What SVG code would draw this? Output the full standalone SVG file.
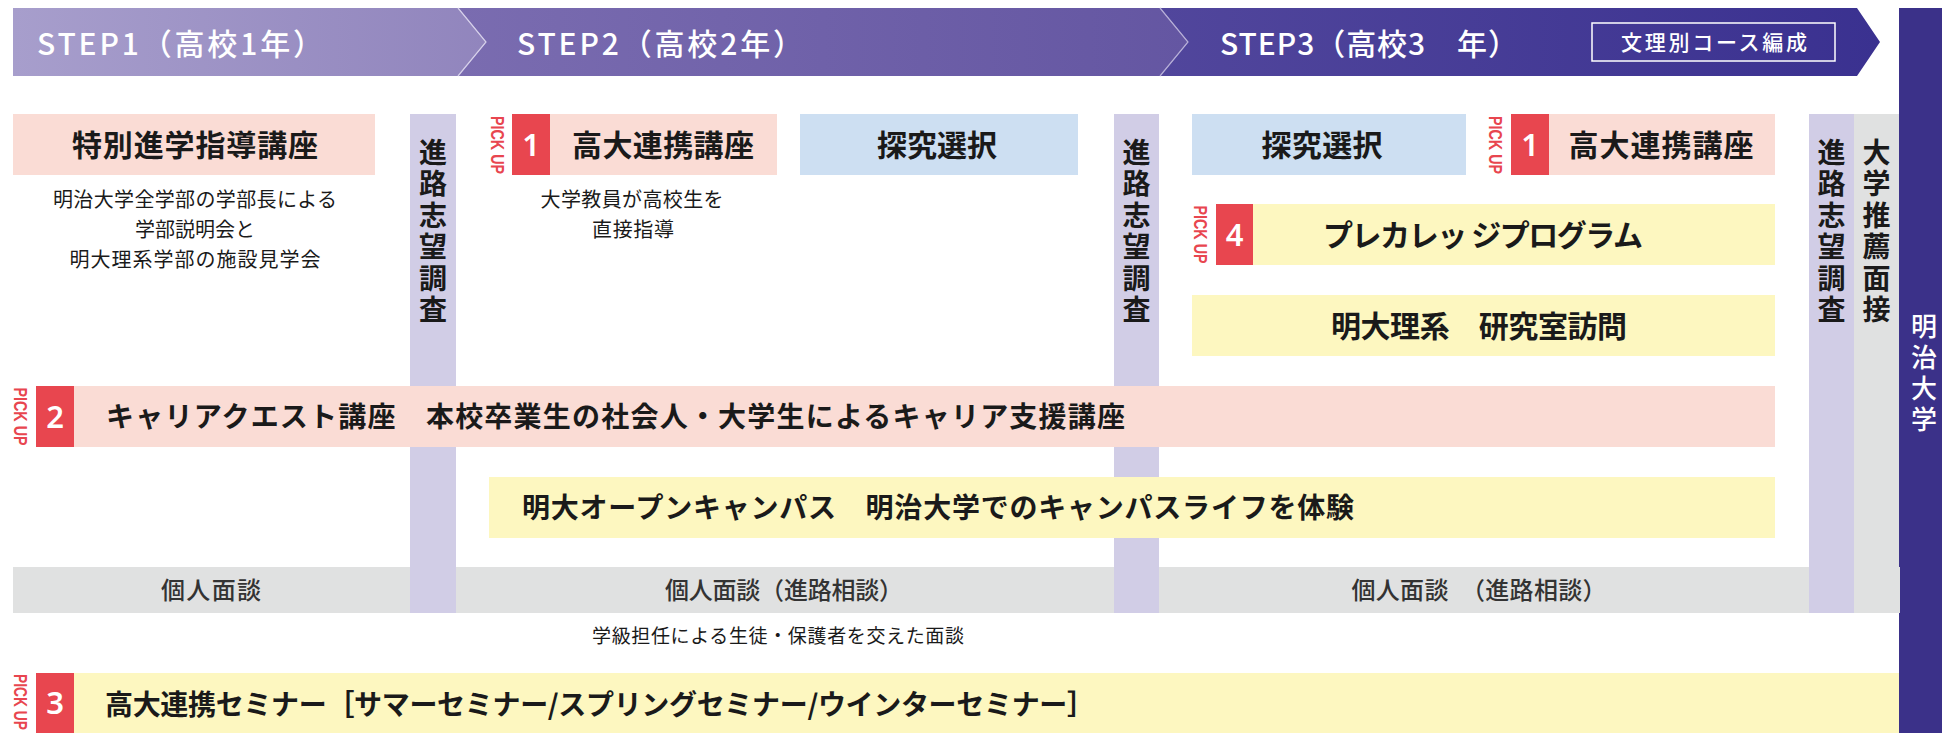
<svg xmlns="http://www.w3.org/2000/svg" width="1942" height="733" viewBox="0 0 1942 733">
<defs>
<linearGradient id="g1" x1="0" y1="0" x2="1" y2="0"><stop offset="0" stop-color="#a79ecc"/><stop offset="1" stop-color="#9185bd"/></linearGradient>
<linearGradient id="g2" x1="0" y1="0" x2="1" y2="0"><stop offset="0" stop-color="#7a6cb0"/><stop offset="1" stop-color="#6456a2"/></linearGradient>
<linearGradient id="g3" x1="0" y1="0" x2="1" y2="0"><stop offset="0" stop-color="#51469c"/><stop offset="1" stop-color="#3a3190"/></linearGradient>
<style>
.jp{font-family:"Noto Sans CJK JP","Noto Sans CJK SC",sans-serif}
.hd{font-size:30px;font-weight:500;fill:#fff}
.lb{font-size:30px;font-weight:700;fill:#1a1a1a}
.lb2{font-size:28px;font-weight:700;fill:#1a1a1a}
.ds{font-size:20px;font-weight:400;fill:#1a1a1a}
.gr{font-size:24px;font-weight:500;fill:#333}
.vt{font-size:28px;font-weight:700;fill:#1a1a1a;writing-mode:vertical-rl;text-orientation:upright;letter-spacing:3.5px}
.pu{font-family:"Liberation Sans",Arial,sans-serif;font-size:18px;font-weight:700;fill:#e8464f;text-anchor:middle}
.num{font-family:"Noto Sans","Liberation Sans",sans-serif;font-size:31px;font-weight:600;fill:#fff;text-anchor:middle}
.pink{fill:#fadcd5}.blue{fill:#cddff2}.yel{fill:#fdf7c0}.lav{fill:#d1cde6}.gry{fill:#e0e1e1}.red{fill:#e8464f}
</style>
</defs>

<g id="header">
<polygon points="458,8 1160,8 1188,42 1160,76 458,76 486,42" fill="url(#g2)"/>
<polygon points="1160,8 1857,8 1880,42 1857,76 1160,76 1188,42" fill="url(#g3)"/>
<polygon points="13,8 458,8 486,42 458,76 13,76" fill="url(#g1)"/>
<polyline points="458,8 486,42 458,76" fill="none" stroke="#d6d0ea" stroke-width="1.2"/>
<polyline points="1160,8 1188,42 1160,76" fill="none" stroke="#b7afd8" stroke-width="1.2"/>
<text class="jp hd" x="37" y="55" textLength="286">STEP1（高校1年）</text>
<text class="jp hd" x="517" y="55" textLength="286">STEP2（高校2年）</text>
<text class="jp hd" x="1220" y="55" textLength="298">STEP3（高校3　年）</text>
<rect x="1592" y="23" width="243" height="38" fill="none" stroke="#fff" stroke-width="1.5"/>
<text class="jp" x="1714" y="50" font-size="21" font-weight="500" fill="#fff" text-anchor="middle" textLength="186">文理別コース編成</text>
</g>

<g id="meiji">
<rect x="1899" y="8" width="43" height="725" fill="#3b3189"/>
<text class="jp" x="1924" y="313" font-size="26" font-weight="500" fill="#fff" style="writing-mode:vertical-rl;text-orientation:upright;letter-spacing:5px">明治大学</text>
</g>

<g id="kojin-mendan">
<rect class="gry" x="13" y="567" width="1887" height="46"/>
<text class="jp gr" x="211" y="599" text-anchor="middle" textLength="100">個人面談</text>
<text class="jp gr" x="784" y="599" text-anchor="middle" textLength="238">個人面談（進路相談）</text>
<text class="jp gr" x="1479" y="599" text-anchor="middle" textLength="255">個人面談　（進路相談）</text>
<text class="jp" x="778" y="643" font-size="19" fill="#1a1a1a" text-anchor="middle" textLength="372">学級担任による生徒・保護者を交えた面談</text>
</g>

<g id="shinro-1">
<rect class="lav" x="410" y="114" width="46" height="499"/>
<text class="jp vt" x="433" y="138">進路志望調査</text>
</g>
<g id="shinro-2">
<rect class="lav" x="1114" y="114" width="45" height="499"/>
<text class="jp vt" x="1136.5" y="138">進路志望調査</text>
</g>
<g id="shinro-3">
<rect class="lav" x="1809" y="114" width="45" height="499"/>
<text class="jp vt" x="1831.5" y="138">進路志望調査</text>
</g>
<g id="suisen-mensetsu">
<rect class="gry" x="1854" y="114" width="45" height="499"/>
<text class="jp vt" x="1876.5" y="138">大学推薦面接</text>
</g>

<g id="tokubetsu">
<rect class="pink" x="13" y="114" width="362" height="61"/>
<text class="jp lb" x="195" y="156" text-anchor="middle" textLength="246">特別進学指導講座</text>
<text class="jp ds" x="195" y="207" text-anchor="middle" textLength="284">明治大学全学部の学部長による</text>
<text class="jp ds" x="195" y="237" text-anchor="middle" textLength="120">学部説明会と</text>
<text class="jp ds" x="195" y="267" text-anchor="middle" textLength="251">明大理系学部の施設見学会</text>
</g>

<g id="kodai-renkei-2">
<text class="pu" transform="translate(497,145) rotate(90)" x="0" y="6.5" textLength="58" lengthAdjust="spacingAndGlyphs">PICK UP</text>
<rect class="red" x="512" y="114" width="38" height="61"/>
<text class="num" x="531" y="156">1</text>
<rect class="pink" x="550" y="114" width="227" height="61"/>
<text class="jp lb" x="663" y="156" text-anchor="middle" textLength="182">高大連携講座</text>
<text class="jp ds" x="632" y="207" text-anchor="middle" textLength="183">大学教員が高校生を</text>
<text class="jp ds" x="633" y="237" text-anchor="middle" textLength="82">直接指導</text>
</g>

<g id="tankyu-2">
<rect class="blue" x="800" y="114" width="278" height="61"/>
<text class="jp lb" x="937" y="156" text-anchor="middle" textLength="120">探究選択</text>
</g>

<g id="tankyu-3">
<rect class="blue" x="1192" y="114" width="274" height="61"/>
<text class="jp lb" x="1322" y="156" text-anchor="middle" textLength="121">探究選択</text>
</g>

<g id="kodai-renkei-3">
<text class="pu" transform="translate(1495,145) rotate(90)" x="0" y="6.5" textLength="58" lengthAdjust="spacingAndGlyphs">PICK UP</text>
<rect class="red" x="1511" y="114" width="38" height="61"/>
<text class="num" x="1530" y="156">1</text>
<rect class="pink" x="1549" y="114" width="226" height="61"/>
<text class="jp lb" x="1661" y="156" text-anchor="middle" textLength="185">高大連携講座</text>
</g>

<g id="precollege">
<text class="pu" transform="translate(1200,234.5) rotate(90)" x="0" y="6.5" textLength="58" lengthAdjust="spacingAndGlyphs">PICK UP</text>
<rect class="red" x="1216" y="204" width="37" height="61"/>
<text class="num" x="1234.5" y="245.5">4</text>
<rect class="yel" x="1253" y="204" width="522" height="61"/>
<text class="jp lb" x="1483" y="246" text-anchor="middle" textLength="320">プレカレッ ジプログラム</text>
</g>

<g id="kenkyushitsu">
<rect class="yel" x="1192" y="295" width="583" height="61"/>
<text class="jp lb" x="1479" y="337" text-anchor="middle" textLength="296">明大理系　研究室訪問</text>
</g>

<g id="career-quest">
<text class="pu" transform="translate(20,416.5) rotate(90)" x="0" y="6.5" textLength="58" lengthAdjust="spacingAndGlyphs">PICK UP</text>
<rect class="red" x="36" y="386" width="38" height="61"/>
<text class="num" x="55" y="427.5">2</text>
<rect class="pink" x="74" y="386" width="1701" height="61"/>
<text class="jp lb2" x="106" y="427" textLength="1019">キャリアクエスト講座　本校卒業生の社会人・大学生によるキャリア支援講座</text>
</g>

<g id="open-campus">
<rect class="yel" x="489" y="477" width="1286" height="61"/>
<text class="jp lb2" x="522" y="518" textLength="832">明大オープンキャンパス　明治大学でのキャンパスライフを体験</text>
</g>

<g id="seminar">
<text class="pu" transform="translate(20,702) rotate(90)" x="0" y="6.5" textLength="56" lengthAdjust="spacingAndGlyphs">PICK UP</text>
<rect class="red" x="36" y="673" width="38" height="60"/>
<rect class="yel" x="74" y="673" width="1825" height="60"/>
<text class="num" x="55" y="714">3</text>
<text class="jp lb2" x="105" y="715" textLength="990">高大連携セミナー［サマーセミナー/スプリングセミナー/ウインターセミナー］</text>
</g>

<g id="connectors"/>
</svg>
